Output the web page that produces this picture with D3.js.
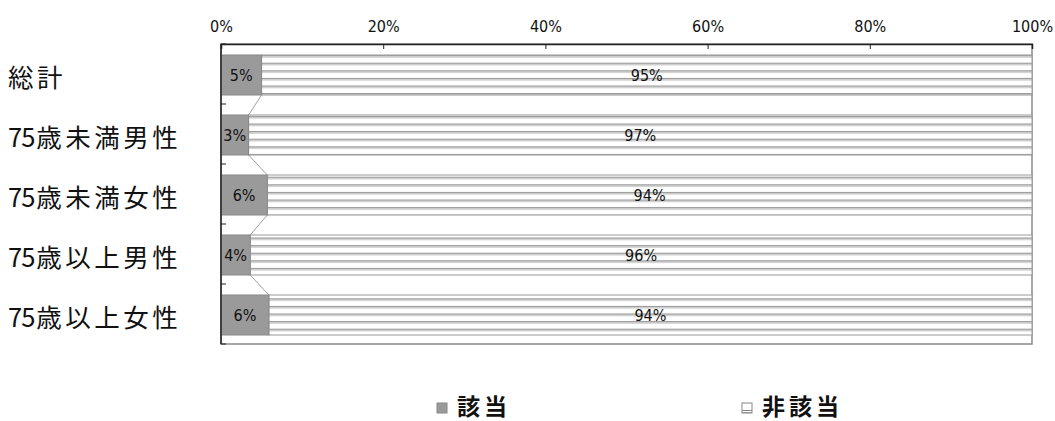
<!DOCTYPE html>
<html><head><meta charset="utf-8">
<script src="https://cdn.jsdelivr.net/npm/d3@7"></script>
<style>
body{margin:0;background:#fff;}
svg{display:block;}
</style></head>
<body>
<svg id="chart" width="1055" height="421"></svg>
<script>
const categories = ["総計","75歳未満男性","75歳未満女性","75歳以上男性","75歳以上女性"];
const seriesNames = ["該当","非該当"];
const gaitou = [5.0, 3.4, 5.7, 3.6, 5.9];
const hiGaitou = [95.0, 96.6, 94.3, 96.4, 94.1];
const gaitouLabels = ["5%","3%","6%","4%","6%"];
const hiGaitouLabels = ["95%","97%","94%","96%","94%"];
const tickValues = [0,20,40,60,80,100];

const svg = d3.select("#chart");
const m = {left:221, right:1032, top:44, bottom:344};
const x = d3.scaleLinear().domain([0,100]).range([m.left, m.right]);
const y = d3.scaleBand().domain(categories).range([m.top+1, m.bottom+1]).paddingInner(1/3).paddingOuter(1/6);
const yb = d3.scaleBand().domain(categories).range([m.top, m.bottom]);

const defs = svg.append("defs");
const pat = defs.append("pattern").attr("id","stripes").attr("patternUnits","userSpaceOnUse")
  .attr("width",8).attr("height",7.6).attr("y", 0);
pat.append("rect").attr("width",8).attr("height",7.6).attr("fill","#fff");
pat.append("rect").attr("y",2).attr("width",8).attr("height",1.2).attr("fill","#8c8c8c");
pat.append("rect").attr("y",3.2).attr("width",8).attr("height",1.3).attr("fill","#c8c8c8");

const lpat = defs.append("pattern").attr("id","lstripes").attr("patternUnits","userSpaceOnUse")
  .attr("width",10).attr("height",10).attr("x",742).attr("y",403);
lpat.append("rect").attr("width",10).attr("height",10).attr("fill","#fff");
lpat.append("rect").attr("y",4).attr("width",10).attr("height",1).attr("fill","#888");
lpat.append("rect").attr("y",6).attr("width",10).attr("height",1).attr("fill","#aaa");

// plot frame
svg.append("rect").attr("x",m.left).attr("y",m.top).attr("width",m.right-m.left).attr("height",m.bottom-m.top)
  .attr("fill","none").attr("stroke","#8a8a8a").attr("stroke-width",1.5);

const data = categories.map((c,i)=>({c, a:gaitou[i], b:hiGaitou[i], la:gaitouLabels[i], lb:hiGaitouLabels[i]}));

// series lines
for(let i=0;i<data.length-1;i++){
  svg.append("line")
    .attr("x1", x(data[i].a)).attr("y1", y(data[i].c)+y.bandwidth())
    .attr("x2", x(data[i+1].a)).attr("y2", y(data[i+1].c))
    .attr("stroke","#888").attr("stroke-width",0.8);
}

// bars
svg.selectAll("rect.b").data(data).enter().append("rect").attr("class","b")
  .attr("x", d=>x(d.a)).attr("y", d=>y(d.c)).attr("width", d=>x(100)-x(d.a)).attr("height", y.bandwidth())
  .attr("fill","url(#stripes)").attr("stroke","#999").attr("stroke-width",1);
svg.selectAll("rect.a").data(data).enter().append("rect").attr("class","a")
  .attr("x", x(0)).attr("y", d=>y(d.c)).attr("width", d=>x(d.a)-x(0)).attr("height", y.bandwidth())
  .attr("fill","#9a9a9a").attr("stroke","#888").attr("stroke-width",1);

// labels
const lblFont = "'DejaVu Sans Condensed','DejaVu Sans',sans-serif";
svg.selectAll("text.la").data(data).enter().append("text")
  .attr("x", d=>Math.max((x(0)+x(d.a))/2, x(0)+10)).attr("y", d=>y(d.c)+y.bandwidth()/2)
  .attr("dy","0.36em").attr("text-anchor","middle").attr("font-family",lblFont).attr("font-size",16)
  .attr("fill","#111").text(d=>d.la);
svg.selectAll("text.lb").data(data).enter().append("text")
  .attr("x", d=>(x(d.a)+x(100))/2).attr("y", d=>y(d.c)+y.bandwidth()/2)
  .attr("dy","0.36em").attr("text-anchor","middle").attr("font-family",lblFont).attr("font-size",16)
  .attr("fill","#111").text(d=>d.lb);

// top axis
const xAxis = d3.axisTop(x).tickValues(tickValues).tickFormat(d=>d+"%").tickSize(-5).tickPadding(12);
const gx = svg.append("g").attr("transform",`translate(0,${m.top})`).call(xAxis);
gx.select(".domain").attr("stroke","#222").attr("stroke-width",1.5);
gx.selectAll(".tick line").attr("stroke","#222");
gx.selectAll(".tick text").attr("font-family",lblFont).attr("font-size",16).attr("fill","#111");

// left axis with boundary ticks
const gy = svg.append("g");
gy.append("line").attr("x1",m.left).attr("x2",m.left).attr("y1",m.top).attr("y2",m.bottom).attr("stroke","#222").attr("stroke-width",1.5);
gy.selectAll("line.t").data(categories).enter().append("line")
  .attr("x1",m.left).attr("x2",m.left+5).attr("y1",d=>yb(d)).attr("y2",d=>yb(d)).attr("stroke","#222");
gy.append("line").attr("x1",m.left).attr("x2",m.left+5).attr("y1",m.bottom).attr("y2",m.bottom).attr("stroke","#222");

// category labels
const cjk = "'Noto Sans CJK JP','Noto Sans CJK SC',sans-serif";
const catText = svg.selectAll("text.cat").data(categories).enter().append("text")
  .attr("x",8).attr("y", d=>yb(d)+yb.bandwidth()/2+4).attr("dy","0.35em")
  .attr("font-family",cjk).attr("font-size",25.5).attr("fill","#111");
catText.each(function(d){
  const t = d3.select(this);
  const m2 = d.match(/^(\d*)(.*)$/);
  if(m2[1]) t.append("tspan").attr("letter-spacing",-1).text(m2[1]);
  t.append("tspan").attr("dx", m2[1] ? 2 : 0).attr("letter-spacing",3.5).text(m2[2]);
});

// legend
const legX = [437, 742];
seriesNames.forEach((s,i)=>{
  const g = svg.append("g").attr("transform",`translate(${legX[i]},403)`);
  g.append("rect").attr("x",0).attr("y",0).attr("width",10).attr("height",10)
    .attr("fill", i===0 ? "#9a9a9a" : "url(#lstripes)").attr("stroke", "#888").attr("stroke-width",1);
  g.append("text").attr("x",20).attr("y",4).attr("dy","0.36em").attr("font-family",cjk)
    .attr("font-size",23).attr("font-weight","bold").attr("letter-spacing",4).attr("fill","#111").text(s);
});
</script>
</body></html>
